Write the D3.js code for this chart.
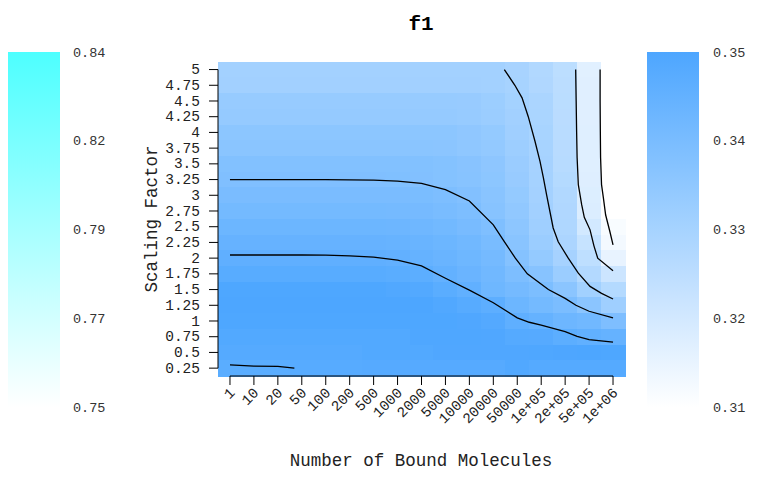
<!DOCTYPE html>
<html>
<head>
<meta charset="utf-8">
<script src="https://cdn.jsdelivr.net/npm/d3@7"></script>
<style>
body { margin: 0; background: #fff; }
svg { display: block; font-family: "Liberation Mono", "Courier New", monospace; }
</style>
</head>
<body>
<svg id="chart" width="760" height="477"></svg>
<script>
var xLabels = ["1", "10", "20", "50", "100", "200", "500", "1000", "2000", "5000", "10000",
    "20000", "50000", "1e+05", "2e+05", "5e+05", "1e+06"];
var yLabels = ["5", "4.75", "4.5", "4.25", "4", "3.75", "3.5", "3.25", "3", "2.75",
    "2.5", "2.25", "2", "1.75", "1.5", "1.25", "1", "0.75", "0.5", "0.25"];

// f1 per row (top row = 5), one value per x label
var f1Rows = [
    [.3307, .3307, .3307, .3307, .3307, .3307, .3307, .3307, .3307, .3307, .3307, .3306, .3296, .3275, .3250, .3168, .3080],
    [.3309, .3309, .3309, .3309, .3309, .3309, .3309, .3309, .3309, .3309, .3309, .3307, .3298, .3278, .3252, .3170, .3080],
    [.3334, .3334, .3334, .3334, .3334, .3334, .3334, .3334, .3334, .3334, .3332, .3322, .3304, .3288, .3255, .3170, .3080],
    [.3338, .3338, .3338, .3338, .3338, .3338, .3338, .3338, .3338, .3338, .3334, .3325, .3310, .3290, .3256, .3170, .3080],
    [.3358, .3358, .3358, .3358, .3358, .3358, .3358, .3358, .3358, .3358, .3350, .3340, .3314, .3295, .3258, .3172, .3080],
    [.3362, .3362, .3362, .3362, .3362, .3362, .3362, .3362, .3362, .3360, .3352, .3342, .3320, .3297, .3260, .3172, .3080],
    [.3380, .3380, .3380, .3380, .3380, .3380, .3380, .3380, .3380, .3376, .3368, .3355, .3328, .3300, .3262, .3172, .3080],
    [.3386, .3386, .3386, .3386, .3386, .3386, .3386, .3385, .3382, .3376, .3370, .3358, .3332, .3302, .3268, .3175, .3082],
    [.3399, .3399, .3399, .3399, .3399, .3399, .3399, .3399, .3398, .3392, .3382, .3365, .3340, .3305, .3275, .3178, .3086],
    [.3412, .3412, .3412, .3412, .3412, .3412, .3412, .3411, .3408, .3402, .3393, .3370, .3348, .3310, .3278, .3182, .3100],
    [.3430, .3430, .3430, .3430, .3430, .3430, .3430, .3428, .3424, .3416, .3404, .3388, .3356, .3315, .3280, .3200, .3115],
    [.3444, .3444, .3444, .3444, .3444, .3444, .3444, .3442, .3437, .3430, .3418, .3400, .3365, .3325, .3287, .3228, .3127],
    [.3458, .3458, .3458, .3458, .3458, .3458, .3458, .3453, .3445, .3438, .3425, .3410, .3375, .3340, .3300, .3245, .3152],
    [.3475, .3475, .3475, .3475, .3475, .3475, .3475, .3470, .3466, .3450, .3435, .3418, .3392, .3370, .3325, .3270, .3215],
    [.3497, .3497, .3497, .3497, .3497, .3497, .3497, .3492, .3486, .3470, .3456, .3425, .3410, .3394, .3360, .3308, .3268],
    [.3500, .3500, .3500, .3500, .3500, .3500, .3500, .3500, .3500, .3490, .3478, .3465, .3430, .3412, .3396, .3360, .3315],
    [.3497, .3497, .3497, .3497, .3497, .3497, .3497, .3497, .3497, .3497, .3494, .3485, .3460, .3445, .3428, .3418, .3390],
    [.3488, .3488, .3488, .3488, .3488, .3488, .3488, .3488, .3495, .3495, .3495, .3494, .3482, .3480, .3466, .3455, .3445],
    [.3482, .3482, .3482, .3482, .3482, .3482, .3488, .3488, .3488, .3494, .3494, .3494, .3494, .3495, .3498, .3500, .3497],
    [.3470, .3470, .3470, .3478, .3478, .3478, .3480, .3480, .3480, .3480, .3480, .3480, .3492, .3482, .3482, .3482, .3482]
];

// contour lines: [x label index, scaling factor]
var contourA = [[0, 3.25], [1, 3.25], [2, 3.25], [3, 3.25], [4, 3.25], [5, 3.245], [6, 3.24], [7, 3.225],
    [8, 3.19], [9, 3.09], [10, 2.91], [11, 2.53], [11.48, 2.25], [11.92, 2.0], [12.42, 1.75], [13.3, 1.5],
    [14, 1.36], [14.45, 1.25], [15, 1.155], [16, 1.05]];
var contourB = [[0, 2.05], [1, 2.05], [2, 2.05], [3, 2.05], [4, 2.048], [5, 2.037], [6, 2.016], [7, 1.97],
    [8, 1.877], [9, 1.68], [10, 1.49], [11, 1.29], [12, 1.05], [12.5, 0.98], [13, 0.935], [14, 0.83],
    [14.5, 0.755], [15, 0.705], [16, 0.663]];
var contourC = [[0, 0.303], [1, 0.282], [2, 0.277], [2.69, 0.25]];
var contourD = [[11.46, 5], [11.9, 4.75], [12.2, 4.55], [12.46, 4.25], [12.74, 3.86], [12.95, 3.54],
    [13.09, 3.28], [13.23, 3.0], [13.37, 2.73], [13.5, 2.48], [13.71, 2.26], [14.13, 2.0], [14.55, 1.76],
    [15.04, 1.55], [15.52, 1.44], [16, 1.35]];
var contourF = [[14.44, 5], [14.46, 4.5], [14.48, 4.0], [14.5, 3.6], [14.55, 3.17], [14.69, 2.85],
    [14.8, 2.65], [15.04, 2.45], [15.2, 2.2], [15.36, 2.0], [16, 1.8]];
var contourE = [[15.46, 5], [15.46, 4.5], [15.47, 4.0], [15.48, 3.6], [15.52, 3.17], [15.6, 2.95],
    [15.69, 2.69], [15.87, 2.42], [16, 2.21]];

var fillTicks = [0.35, 0.34, 0.33, 0.32, 0.31];
var cyanTicks = [0.84, 0.82, 0.79, 0.77, 0.75];

var svg = d3.select("#chart");

var x = d3.scaleBand().domain(xLabels).range([218, 625]);
var y = d3.scaleBand().domain(yLabels).range([61.7, 376]);
var bw = x.bandwidth(), bh = y.bandwidth();

var color = d3.scaleLinear()
    .domain([0.31, 0.35])
    .range(["#ffffff", "#4da6ff"])
    .clamp(true);
var cyan = d3.scaleLinear()
    .domain([0.75, 0.84])
    .range(["#ffffff", "#4dffff"]);

// heatmap cells
var cells = [];
f1Rows.forEach((row, i) => row.forEach((v, j) => cells.push({ x: xLabels[j], y: yLabels[i], v: v })));

svg.append("g")
    .selectAll("rect")
    .data(cells)
    .join("rect")
    .attr("x", d => x(d.x))
    .attr("y", d => y(d.y))
    .attr("width", bw + 0.5)
    .attr("height", bh + 0.5)
    .attr("fill", d => color(d.v))
    .attr("shape-rendering", "crispEdges");

// contour lines
var xi = d3.scaleLinear().domain([0, xLabels.length - 1])
    .range([x(xLabels[0]) + bw / 2, x(xLabels[xLabels.length - 1]) + bw / 2]);
var yv = d3.scaleLinear().domain([0.25, 5])
    .range([y("0.25") + bh / 2, y("5") + bh / 2]);
var line = d3.line().x(d => xi(d[0])).y(d => yv(d[1]));

svg.append("g")
    .selectAll("path")
    .data([contourA, contourB, contourC, contourD, contourF, contourE])
    .join("path")
    .attr("d", line)
    .attr("fill", "none")
    .attr("stroke", "#000")
    .attr("stroke-width", 1.3);

// axes
var yAxis = svg.append("g")
    .attr("transform", "translate(218,0)")
    .call(d3.axisLeft(y).tickSize(9).tickPadding(9));
yAxis.select(".domain").remove();
yAxis.append("line")
    .attr("y1", y("5") + bh / 2).attr("y2", y("0.25") + bh / 2)
    .attr("stroke", "#000");

var xAxis = svg.append("g")
    .attr("transform", "translate(0,376)")
    .call(d3.axisBottom(x).tickSize(9));
xAxis.select(".domain").remove();
xAxis.append("line")
    .attr("x1", xi(0)).attr("x2", xi(xLabels.length - 1))
    .attr("stroke", "#000");
xAxis.selectAll(".tick text")
    .attr("x", 0).attr("y", 0).attr("dy", "0.35em")
    .attr("transform", "translate(2,14) rotate(-45)")
    .style("text-anchor", "end");

svg.selectAll(".tick text")
    .style("font-family", "'Liberation Mono', 'Courier New', monospace")
    .style("font-size", "14.5px")
    .attr("fill", "#222");
svg.selectAll(".tick line").attr("stroke", "#000");

// titles
svg.append("text")
    .attr("x", 421).attr("y", 30)
    .attr("text-anchor", "middle")
    .style("font-size", "21px").style("font-weight", "bold")
    .text("f1");

svg.append("text")
    .attr("x", 421).attr("y", 466)
    .attr("text-anchor", "middle")
    .style("font-size", "17.5px").attr("fill", "#222")
    .text("Number of Bound Molecules");

svg.append("text")
    .attr("transform", "translate(157,219) rotate(-90)")
    .attr("text-anchor", "middle")
    .style("font-size", "17.5px").attr("fill", "#222")
    .text("Scaling Factor");

// colour bars
var defs = svg.append("defs");
function colorBar(id, scale, ticks, bx, lx) {
    var dom = scale.domain();
    var grad = defs.append("linearGradient").attr("id", id)
        .attr("x1", 0).attr("y1", 1).attr("x2", 0).attr("y2", 0);
    grad.selectAll("stop")
        .data(d3.range(0, 1.01, 0.1))
        .join("stop")
        .attr("offset", d => d)
        .attr("stop-color", d => scale(dom[0] + d * (dom[1] - dom[0])));
    svg.append("rect")
        .attr("x", bx).attr("y", 52)
        .attr("width", 52).attr("height", 355)
        .attr("fill", "url(#" + id + ")");
    var ty = d3.scalePoint().domain(ticks).range([52, 407]);
    svg.append("g")
        .selectAll("text")
        .data(ticks)
        .join("text")
        .attr("x", lx).attr("y", d => ty(d))
        .attr("dy", "0.35em")
        .style("font-size", "13.5px").attr("fill", "#333")
        .text(d => d.toFixed(2));
}
colorBar("cyanBar", cyan, cyanTicks, 8, 73);
colorBar("blueBar", color, fillTicks, 647, 713);
</script>
</body>
</html>
